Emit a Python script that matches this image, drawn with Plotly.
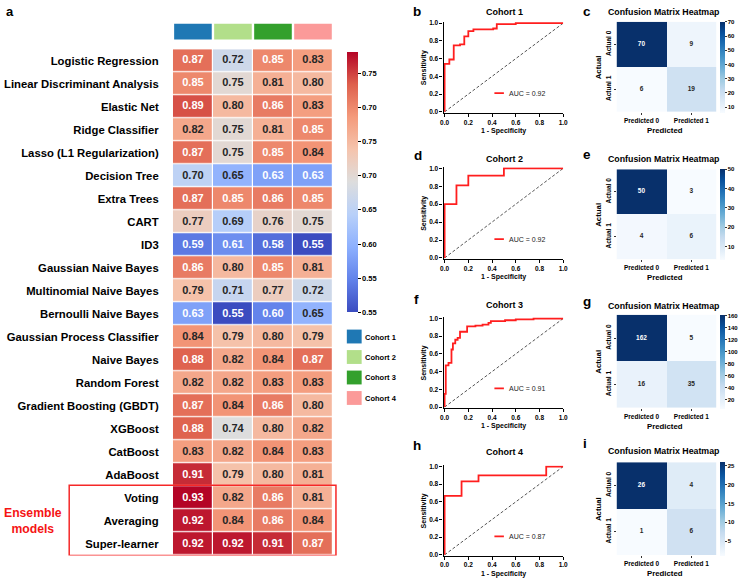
import plotly.graph_objects as go

W, H = 748, 582
FONT = "Liberation Sans, Arial, sans-serif"

# ---------------- data ----------------
models = ["Logistic Regression", "Linear Discriminant Analysis", "Elastic Net",
          "Ridge Classifier", "Lasso (L1 Regularization)", "Decision Tree",
          "Extra Trees", "CART", "ID3", "Gaussian Naive Bayes",
          "Multinomial Naive Bayes", "Bernoulli Naive Bayes",
          "Gaussian Process Classifier", "Naive Bayes", "Random Forest",
          "Gradient Boosting (GBDT)", "XGBoost", "CatBoost", "AdaBoost",
          "Voting", "Averaging", "Super-learner"]
cohorts = ["Cohort 1", "Cohort 2", "Cohort 3", "Cohort 4"]
cohort_colors = ["#1f78b4", "#b2df8a", "#33a02c", "#fb9a99"]

cohort1 = [0.87, 0.85, 0.89, 0.82, 0.87, 0.70, 0.87, 0.77, 0.59, 0.86, 0.79,
           0.63, 0.84, 0.88, 0.82, 0.87, 0.88, 0.83, 0.91, 0.93, 0.92, 0.92]
cohort2 = [0.72, 0.75, 0.80, 0.75, 0.75, 0.65, 0.85, 0.69, 0.61, 0.80, 0.71,
           0.55, 0.79, 0.82, 0.82, 0.84, 0.74, 0.82, 0.79, 0.82, 0.84, 0.92]
cohort3 = [0.85, 0.81, 0.86, 0.81, 0.85, 0.63, 0.86, 0.76, 0.58, 0.85, 0.77,
           0.60, 0.80, 0.84, 0.83, 0.86, 0.80, 0.84, 0.80, 0.86, 0.86, 0.91]
cohort4 = [0.83, 0.80, 0.83, 0.85, 0.84, 0.63, 0.85, 0.75, 0.55, 0.81, 0.72,
           0.65, 0.79, 0.87, 0.83, 0.80, 0.82, 0.83, 0.81, 0.81, 0.84, 0.87]
ensemble_models = ["Voting", "Averaging", "Super-learner"]

cbar_tickvals = [0.55, 0.60, 0.65, 0.70, 0.75, 0.80, 0.85, 0.90]
cbar_ticktext = ["0.55", "0.55", "0.60", "0.65", "0.70", "0.75", "0.70", "0.75"]

roc_titles = ["Cohort 1", "Cohort 2", "Cohort 3", "Cohort 4"]
roc_auc = [0.92, 0.92, 0.91, 0.87]
roc1_fpr = [0, 0, 0.04, 0.077, 0.13, 0.166, 0.20, 0.243, 0.41, 0.44, 0.60, 1.0]
roc1_tpr = [0, 0.54, 0.59, 0.75, 0.76, 0.85, 0.91, 0.93, 0.94, 0.99, 1.0, 1.0]
roc2_fpr = [0, 0, 0.10, 0.20, 0.50, 1.0]
roc2_tpr = [0, 0.60, 0.81, 0.92, 1.0, 1.0]
roc3_fpr = [0, 0, 0.01, 0.033, 0.058, 0.07, 0.09, 0.11, 0.13, 0.19, 0.26, 0.32,
            0.37, 0.39, 0.51, 0.60, 0.75, 1.0]
roc3_tpr = [0, 0.15, 0.47, 0.50, 0.65, 0.72, 0.76, 0.78, 0.85, 0.91, 0.92, 0.93,
            0.95, 0.97, 0.98, 0.99, 1.0, 1.0]
roc4_fpr = [0, 0, 0.143, 0.286, 0.857, 1.0]
roc4_tpr = [0, 0.667, 0.833, 0.90, 1.0, 1.0]

cm_x = ["Predicted 0", "Predicted 1"]
cm_y = ["Actual 0", "Actual 1"]
cm1 = [[70, 9], [6, 19]]
cm2 = [[50, 3], [4, 6]]
cm3 = [[162, 5], [16, 35]]
cm4 = [[26, 4], [1, 6]]
cm_dticks = [10, 10, 20, 5]

# ---------------- helpers ----------------
def px(x):
    return x / W

def py(y):
    return 1 - y / H

coolwarm = [[0.0, "#3b4cc0"], [0.125, "#6282ea"], [0.25, "#8db0fe"],
            [0.375, "#b8d0f9"], [0.5, "#dddddd"], [0.625, "#f5c4ad"],
            [0.75, "#f49a7b"], [0.875, "#de604d"], [1.0, "#b40426"]]
blues = [[0.0, "#f7fbff"], [0.125, "#deebf7"], [0.25, "#c6dbef"],
         [0.375, "#9ecae1"], [0.5, "#6baed6"], [0.625, "#4292c6"],
         [0.75, "#2171b5"], [0.875, "#08519c"], [1.0, "#08306b"]]

fig = go.Figure()
annotations = []
shapes = []

def ann(text, x, y, size, bold=True, color="black", xanchor="center",
        yanchor="middle", angle=0, xref="paper", yref="paper"):
    annotations.append(dict(
        text=text, x=x if xref != "paper" else px(x),
        y=y if yref != "paper" else py(y), xref=xref, yref=yref,
        showarrow=False, xanchor=xanchor, yanchor=yanchor, textangle=angle,
        font=dict(family=FONT, size=size, color=color,
                  weight="bold" if bold else "normal")))

# ---------------- panel a : heatmap ----------------
z = [[cohort1[i], cohort2[i], cohort3[i], cohort4[i]] for i in range(len(models))]
ZMIN, ZMAX = 0.55, 0.93
fig.add_trace(go.Heatmap(
    z=z, x=list(range(4)), y=models, zmin=ZMIN, zmax=ZMAX,
    colorscale=coolwarm, xgap=1.2, ygap=1.2, xaxis="x", yaxis="y",
    hoverinfo="skip",
    colorbar=dict(x=px(347), xanchor="left", y=py(50), yanchor="top",
                  len=260, lenmode="pixels", thickness=11,
                  thicknessmode="pixels", xpad=0, ypad=0, outlinewidth=0,
                  tickmode="array", tickvals=cbar_tickvals,
                  ticktext=cbar_ticktext, ticks="outside", ticklen=3,
                  tickwidth=1, tickcolor="black",
                  tickfont=dict(family=FONT, size=7.5, color="black",
                                weight="bold"))))
tx, ty, tt, tc = [], [], [], []
for i, m in enumerate(models):
    for j in range(4):
        v = z[i][j]
        tx.append(j); ty.append(m); tt.append(f"{v:.2f}")
        tc.append("white" if (v >= 0.845 or v <= 0.635) else "#262626")
fig.add_trace(go.Scatter(x=tx, y=ty, mode="text", text=tt,
                         textfont=dict(family=FONT, size=11, color=tc,
                                       weight="bold"),
                         xaxis="x", yaxis="y", showlegend=False,
                         hoverinfo="skip"))

# cohort colour strip above heatmap
for j, col in enumerate(cohort_colors):
    shapes.append(dict(type="rect", xref="x", yref="paper",
                       x0=j - 0.47, x1=j + 0.47, y0=py(37), y1=py(21),
                       fillcolor=col, line=dict(width=0)))
# cohort legend
for k, (name, col) in enumerate(zip(cohorts, cohort_colors)):
    top = 330 + k * 20.7
    shapes.append(dict(type="rect", xref="paper", yref="paper",
                       x0=px(347), x1=px(362), y0=py(top + 14), y1=py(top),
                       fillcolor=col, line=dict(width=0)))
    ann(name, 363.5, top + 7.5, 7.5, xanchor="left")

# ensemble box
shapes.append(dict(type="rect", xref="paper", yref="y",
                   x0=px(66), x1=px(336),
                   y0=models.index(ensemble_models[0]) - 0.55,
                   y1=models.index(ensemble_models[-1]) + 0.5,
                   line=dict(color="rgb(245,40,40)", width=1.5)))
ann("Ensemble<br>models", 29, 523.5, 12.2, color="rgb(245,20,20)")
ann("a", 6, 9, 13)

layout_axes = {}
layout_axes["xaxis"] = dict(domain=[px(171), px(333)], range=[-0.5, 3.5],
                            visible=False, anchor="y")
layout_axes["yaxis"] = dict(domain=[py(558.3), py(46.7)], anchor="x",
                            categoryorder="array", categoryarray=models,
                            range=[len(models) - 0.5, -0.5],
                            showgrid=False, zeroline=False, showline=False,
                            ticks="outside", ticklen=11,
                            tickcolor="rgba(0,0,0,0)",
                            tickfont=dict(family=FONT, size=11.3,
                                          color="black", weight="bold"))

# ---------------- ROC panels ----------------
roc_data = [(roc1_fpr, roc1_tpr), (roc2_fpr, roc2_tpr),
            (roc3_fpr, roc3_tpr), (roc4_fpr, roc4_tpr)]
roc_box = [(19.3, 110.7), (166, 258.3), (317.7, 409), (467.3, 558.3)]
roc_title_y = [8.7, 157.3, 305, 454]
roc_letters = [("b", 418, 9), ("d", 419, 154), ("f", 418, 300), ("h", 418, 446.7)]
RX0, RX1 = 445, 566

cm_data = [cm1, cm2, cm3, cm4]
cm_box = [(19, 110), (168, 259), (315, 409), (464, 557.7)]
cm_title_y = [9, 157.3, 305.7, 453]
cm_letters = [("c", 590, 9), ("e", 590, 153), ("g", 590, 301.7), ("i", 588, 445)]
CX0, CX1 = 620, 721

tick_font = dict(family=FONT, size=6.5, color="black", weight="bold")

for k in range(4):
    xa = f"x{2 * k + 2}"
    ya = f"y{2 * k + 2}"
    top, bot = roc_box[k]
    fpr, tpr = roc_data[k]
    fig.add_trace(go.Scatter(x=fpr, y=tpr, mode="lines",
                             line=dict(color="rgb(255,30,30)", width=1.8,
                                       shape="hv"),
                             xaxis=xa, yaxis=ya, showlegend=False,
                             hoverinfo="skip"))
    shapes.append(dict(type="line", xref=xa, yref=ya, x0=0, y0=0, x1=1, y1=1,
                       line=dict(color="#444444", width=0.9, dash="3px,2px"),
                       layer="below"))
    # AUC legend
    shapes.append(dict(type="line", xref=xa, yref=ya, x0=0.42, x1=0.50,
                       y0=0.21, y1=0.21,
                       line=dict(color="rgb(255,30,30)", width=1.8)))
    ann(f"AUC = {roc_auc[k]:.2f}", 0.53, 0.21, 7, bold=False,
        color="#222222", xanchor="left", xref=xa, yref=ya)
    axis_common = dict(showgrid=False, zeroline=False, showline=True,
                       linecolor="black", linewidth=1.3, ticks="outside",
                       ticklen=3, tickwidth=1, tickcolor="black",
                       tickfont=tick_font, dtick=0.2, tickformat=".1f",
                       tick0=0)
    layout_axes[f"xaxis{2 * k + 2}"] = dict(domain=[px(RX0), px(RX1)],
                                            range=[-0.008, 1.0], anchor=ya,
                                            **axis_common)
    layout_axes[f"yaxis{2 * k + 2}"] = dict(domain=[py(bot), py(top)],
                                            range=[-0.008, 1.012], anchor=xa,
                                            **axis_common)
    ann(roc_titles[k], (RX0 + RX1) / 2 + 1, roc_title_y[k], 9)
    ann("1 - Specificity", (RX0 + RX1) / 2, bot + 18.3, 7)
    ann("Sensitivity", 425, (top + bot) / 2, 7, angle=-90)
    L, lx, ly = roc_letters[k]
    ann(L, lx, ly, 13.5)

    # confusion matrices
    xc = f"x{2 * k + 3}"
    yc = f"y{2 * k + 3}"
    ctop, cbot = cm_box[k]
    cm = cm_data[k]
    flat = [v for row in cm for v in row]
    vmin, vmax = min(flat), max(flat)
    fig.add_trace(go.Heatmap(
        z=cm, x=cm_x, y=cm_y, zmin=vmin, zmax=vmax, colorscale=blues,
        xaxis=xc, yaxis=yc, hoverinfo="skip",
        colorbar=dict(x=px(725), xanchor="left", y=py(ctop), yanchor="top",
                      len=cbot - ctop, lenmode="pixels", thickness=5,
                      thicknessmode="pixels", xpad=0, ypad=0,
                      outlinewidth=0, dtick=cm_dticks[k], tick0=0,
                      ticks="outside", ticklen=2, tickwidth=0.8,
                      tickcolor="#333333",
                      tickfont=dict(family=FONT, size=6, color="black",
                                    weight="bold"))))
    cx, cy, ct, cc = [], [], [], []
    for r in range(2):
        for c in range(2):
            v = cm[r][c]
            cx.append(cm_x[c]); cy.append(cm_y[r]); ct.append(str(v))
            cc.append("white" if v > (vmin + vmax) / 2 else "#262626")
    fig.add_trace(go.Scatter(x=cx, y=cy, mode="text", text=ct,
                             textfont=dict(family=FONT, size=6.5, color=cc,
                                           weight="bold"),
                             xaxis=xc, yaxis=yc, showlegend=False,
                             hoverinfo="skip"))
    cm_axis = dict(showgrid=False, zeroline=False, showline=False,
                   ticks="outside", ticklen=2, tickwidth=0.8,
                   tickcolor="#333333",
                   tickfont=dict(family=FONT, size=6.5, color="black",
                                 weight="bold"))
    layout_axes[f"xaxis{2 * k + 3}"] = dict(domain=[px(CX0), px(CX1)],
                                            anchor=yc, **cm_axis)
    layout_axes[f"yaxis{2 * k + 3}"] = dict(domain=[py(cbot), py(ctop)],
                                            anchor=xc, autorange="reversed",
                                            tickangle=-90, **cm_axis)
    ann("Confusion Matrix Heatmap", 668, cm_title_y[k], 8.8)
    ann("Predicted", 669, cbot + 18.5, 7.8)
    ann("Actual", 601.7, (ctop + cbot) / 2, 7.8, angle=-90)
    L, lx, ly = cm_letters[k]
    ann(L, lx, ly, 13.5)

fig.update_layout(width=W, height=H, margin=dict(l=0, r=0, t=0, b=0),
                  paper_bgcolor="white", plot_bgcolor="white",
                  showlegend=False, annotations=annotations, shapes=shapes,
                  font=dict(family=FONT), **layout_axes)

fig.write_html("out.html")
